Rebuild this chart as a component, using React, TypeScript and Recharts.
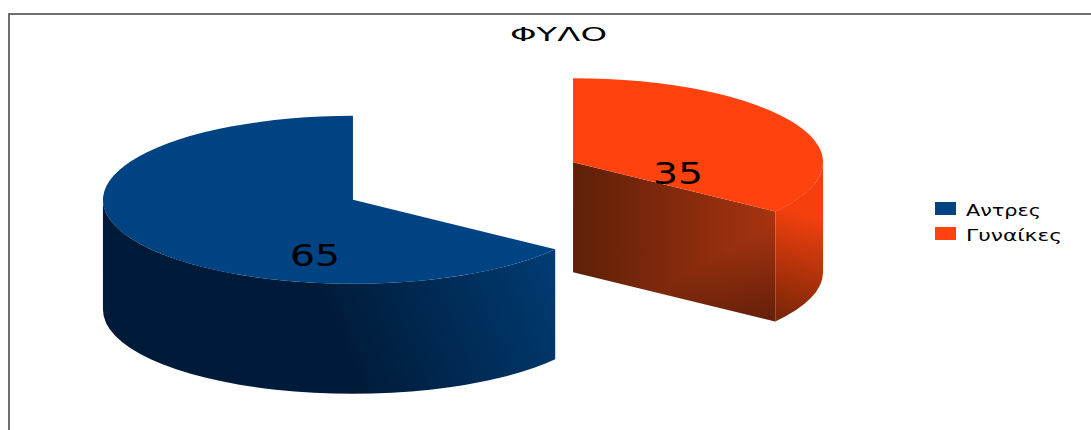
import React from "react";
import { PieChart, Pie, Legend } from "recharts";

const categories = ["Αντρες", "Γυναίκες"];
const shares = [65, 35];
const colors = ["#004382", "#ff420e"];
const chartTitle = "ΦΥΛΟ";

const W = 1091;
const H = 430;
const RX = 250;
const SQUASH = 0.336; // ellipse ry / rx of the tilted pie
const DEPTH = 110;
const EXPLODE = 123.5;

// styling per slice, offsets are from the tip of the slice
const LABEL_OFFSET = [
  { dx: -38, dy: 56 },
  { dx: 105, dy: 11 },
];
const LEGEND_TEXT_WIDTH = [75, 96];
const WALL_GRADIENT = [
  { x1: -13, y1: 140, x2: 200, y2: 50, from: "#001b39", to: "#003c74" },
  { x1: 215, y1: 155, x2: 245, y2: 55, from: "#7c2707", to: "#f5400e" },
];
const CUT_GRADIENT = { x1: 0, y1: 0, x2: 205, y2: 0, from: "#5e2008", to: "#a83410" };
const CUT_SHADE = { x1: 150, y1: 90, x2: 190, y2: 158 };

const rad = (a: number) => (a * Math.PI) / 180;

function Gradient({ id, g }: { id: string; g: any }) {
  return (
    <linearGradient id={id} gradientUnits="userSpaceOnUse" x1={g.x1} y1={g.y1} x2={g.x2} y2={g.y2}>
      <stop offset="0" stopColor={g.from} />
      <stop offset="1" stopColor={g.to} />
    </linearGradient>
  );
}

function Slice3D(props: any) {
  const { cx, cy, startAngle, endAngle, midAngle, fill, index } = props;
  const ry = RX * SQUASH;
  const tipX = EXPLODE * Math.cos(rad(midAngle));
  const tipY = -EXPLODE * SQUASH * Math.sin(rad(midAngle));
  const pt = (a: number, drop = 0) => `${RX * Math.cos(rad(a))} ${-ry * Math.sin(rad(a)) + drop}`;
  const large = (a: number, b: number) => (Math.abs(a - b) > 180 ? 1 : 0);

  const top =
    `M0 0 L${pt(startAngle)} A${RX} ${ry} 0 ${large(startAngle, endAngle)} 1 ${pt(endAngle)} Z`;

  // the part of the rim that lies on the front half of the ellipse
  let wall = "";
  for (const k of [0, -360]) {
    const from = Math.min(startAngle, k);
    const to = Math.max(endAngle, k - 180);
    if (from > to) {
      wall +=
        `M${pt(from)} A${RX} ${ry} 0 0 1 ${pt(to)} L${pt(to, DEPTH)} ` +
        `A${RX} ${ry} 0 0 0 ${pt(from, DEPTH)} Z`;
    }
  }

  // a cut face shows only when its free edge is on the right side
  const showCut = Math.cos(rad(endAngle)) > 0.01;
  const cut = `M0 0 L${pt(endAngle)} L${pt(endAngle, DEPTH)} L0 ${DEPTH} Z`;

  return (
    <g transform={`translate(${cx + tipX} ${cy + tipY})`}>
      <defs>
        <Gradient id={`wall-${index}`} g={WALL_GRADIENT[index]} />
        <Gradient id={`cut-${index}`} g={CUT_GRADIENT} />
        <linearGradient
          id={`shade-${index}`}
          gradientUnits="userSpaceOnUse"
          x1={CUT_SHADE.x1}
          y1={CUT_SHADE.y1}
          x2={CUT_SHADE.x2}
          y2={CUT_SHADE.y2}
        >
          <stop offset="0" stopColor="#000" stopOpacity={0} />
          <stop offset="1" stopColor="#000" stopOpacity={0.38} />
        </linearGradient>
      </defs>
      {showCut && <path d={cut} fill={`url(#cut-${index})`} />}
      {showCut && <path d={cut} fill={`url(#shade-${index})`} />}
      <path d={wall} fill={`url(#wall-${index})`} />
      <path d={top} fill={fill} />
    </g>
  );
}

function SliceLabel(props: any) {
  const { cx, cy, midAngle, index, value } = props;
  const x = cx + EXPLODE * Math.cos(rad(midAngle)) + LABEL_OFFSET[index].dx;
  const y = cy - EXPLODE * SQUASH * Math.sin(rad(midAngle)) + LABEL_OFFSET[index].dy;
  return (
    <text
      x={x}
      y={y}
      textAnchor="middle"
      dominantBaseline="central"
      textLength={50}
      lengthAdjust="spacingAndGlyphs"
      fontFamily="DejaVu Sans"
      fontSize={30}
      fill="#000"
    >
      {value}
    </text>
  );
}

function LegendRows({ payload }: any) {
  return (
    <div>
      {(payload || []).map((item: any, i: number) => (
        <div key={item.value} style={{ display: "flex", height: 25 }}>
          <div style={{ width: 21, height: 13, background: item.color, marginRight: 10 }} />
          <svg width={110} height={25} style={{ marginTop: -5 }}>
            <text
              x={0}
              y={19}
              textLength={LEGEND_TEXT_WIDTH[i]}
              lengthAdjust="spacingAndGlyphs"
              fontFamily="DejaVu Sans"
              fontSize={16}
              fill="#000"
            >
              {item.value}
            </text>
          </svg>
        </div>
      ))}
    </div>
  );
}

export default function App() {
  const data = categories.map((name, i) => ({ name, value: shares[i], fill: colors[i] }));

  return (
    <div
      style={{
        position: "absolute",
        left: 0,
        top: 0,
        width: W,
        height: H,
        overflow: "hidden",
        background: "#fff",
      }}
    >
      <div
        style={{
          position: "absolute",
          left: 8,
          top: 13,
          width: 1200,
          height: 600,
          border: "2px solid #6e6e6e",
        }}
      />
      <PieChart width={W} height={H} margin={{ top: 0, right: 0, bottom: 0, left: 0 }}>
        <text
          x={558.5}
          y={41}
          textAnchor="middle"
          textLength={97}
          lengthAdjust="spacingAndGlyphs"
          fontFamily="DejaVu Sans"
          fontSize={20}
          fill="#000"
        >
          {chartTitle}
        </text>
        <Pie
          data={data}
          dataKey="value"
          nameKey="name"
          cx={463}
          cy={181}
          outerRadius={RX}
          startAngle={-36}
          endAngle={-396}
          stroke="none"
          shape={Slice3D}
          label={SliceLabel}
          labelLine={false}
          isAnimationActive={false}
        />
        <Legend
          layout="vertical"
          align="right"
          verticalAlign="top"
          content={LegendRows}
          wrapperStyle={{ left: 935, right: "auto", top: 202, width: 150 }}
        />
      </PieChart>
    </div>
  );
}
